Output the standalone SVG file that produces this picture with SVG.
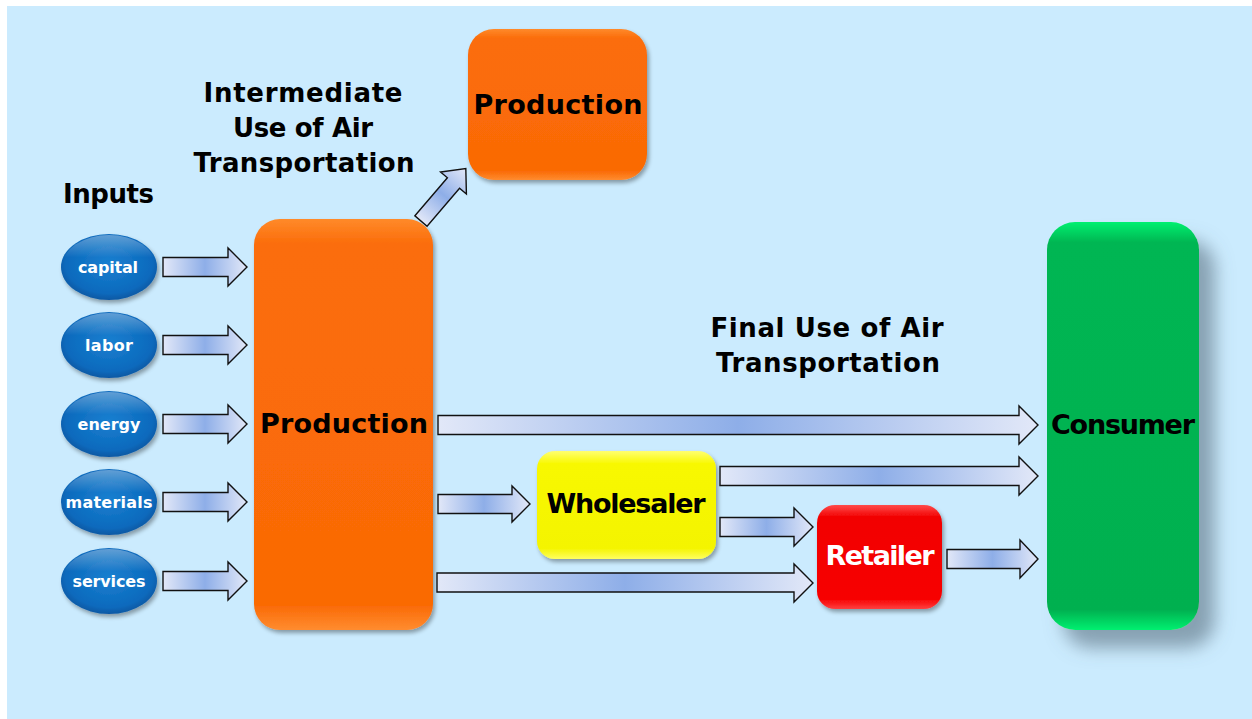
<svg xmlns="http://www.w3.org/2000/svg" width="1252" height="719" viewBox="0 0 1252 719">
  <defs>
    <style>
      .lbl { font-family: "DejaVu Sans", "Open Sans", "Liberation Sans", sans-serif; font-weight: 700; }
      .title { font-size: 26px; fill: #000; text-anchor: middle; }
      .box-text { font-size: 27px; fill: #000; text-anchor: middle; }
      .oval-text { font-size: 16px; fill: #fff; text-anchor: middle; }
      .arrow { fill: url(#arrowFill); stroke: #111; stroke-width: 1.4; stroke-linejoin: miter; }
    </style>
    <linearGradient id="arrowFill" x1="0" y1="0" x2="1" y2="0">
      <stop offset="0" stop-color="#e2e8f8"/>
      <stop offset="0.5" stop-color="#8eaee8"/>
      <stop offset="1" stop-color="#e2e8f8"/>
    </linearGradient>
    <radialGradient id="ovalFill" cx="0.5" cy="0.45" r="0.6">
      <stop offset="0" stop-color="#1a7fd0"/>
      <stop offset="0.75" stop-color="#0b6abd"/>
      <stop offset="1" stop-color="#0a4f96"/>
    </radialGradient>
    <linearGradient id="ovalShine" x1="0" y1="0" x2="0" y2="1">
      <stop offset="0" stop-color="#ffffff" stop-opacity="0.35"/>
      <stop offset="0.35" stop-color="#ffffff" stop-opacity="0"/>
    </linearGradient>
    <linearGradient id="orangeFill" x1="0" y1="0" x2="0" y2="1">
      <stop offset="0" stop-color="#ff8a2a"/>
      <stop offset="0.06" stop-color="#fb6d0a"/>
      <stop offset="0.94" stop-color="#fa6a05"/>
      <stop offset="1" stop-color="#ff8c30"/>
    </linearGradient>
    <linearGradient id="yellowFill" x1="0" y1="0" x2="0" y2="1">
      <stop offset="0" stop-color="#ffff70"/>
      <stop offset="0.12" stop-color="#f8f800"/>
      <stop offset="0.9" stop-color="#f4f400"/>
      <stop offset="1" stop-color="#ffff60"/>
    </linearGradient>
    <linearGradient id="redFill" x1="0" y1="0" x2="0" y2="1">
      <stop offset="0" stop-color="#ff4a4a"/>
      <stop offset="0.12" stop-color="#f20000"/>
      <stop offset="0.9" stop-color="#f70000"/>
      <stop offset="1" stop-color="#ff4040"/>
    </linearGradient>
    <linearGradient id="greenFill" x1="0" y1="0" x2="0" y2="1">
      <stop offset="0" stop-color="#00f070"/>
      <stop offset="0.05" stop-color="#00b652"/>
      <stop offset="0.95" stop-color="#00b050"/>
      <stop offset="1" stop-color="#00f070"/>
    </linearGradient>
    <filter id="softShadow" x="-20%" y="-20%" width="150%" height="150%">
      <feGaussianBlur in="SourceAlpha" stdDeviation="2"/>
      <feOffset dx="2" dy="3" result="b"/>
      <feComponentTransfer><feFuncA type="linear" slope="0.35"/></feComponentTransfer>
      <feMerge><feMergeNode/><feMergeNode in="SourceGraphic"/></feMerge>
    </filter>
    <filter id="bigShadow" x="-30%" y="-20%" width="170%" height="150%">
      <feGaussianBlur in="SourceAlpha" stdDeviation="9"/>
      <feOffset dx="16" dy="18" result="b"/>
      <feFlood flood-color="#5a7080" flood-opacity="0.6"/>
      <feComposite in2="b" operator="in"/>
      <feMerge><feMergeNode/><feMergeNode in="SourceGraphic"/></feMerge>
    </filter>
  </defs>

  <!-- backdrop -->
  <rect x="0" y="0" width="1252" height="719" fill="#ffffff"/>
  <rect x="7" y="6" width="1245" height="713" fill="#cbebfe"/>

  <!-- headings -->
  <g id="heading-inputs" class="lbl">
    <text x="63" y="203" font-size="26" fill="#000" textLength="91" lengthAdjust="spacing">Inputs</text>
  </g>
  <g id="heading-intermediate" class="lbl title">
    <text x="303" y="102" textLength="199" lengthAdjust="spacing">Intermediate</text>
    <text x="303" y="137" textLength="140" lengthAdjust="spacing">Use of Air</text>
    <text x="304" y="172" textLength="221" lengthAdjust="spacing">Transportation</text>
  </g>
  <g id="heading-final" class="lbl title">
    <text x="827" y="337" textLength="233" lengthAdjust="spacing">Final Use of Air</text>
    <text x="828" y="372" textLength="224" lengthAdjust="spacing">Transportation</text>
  </g>

  <!-- input ovals -->
  <g id="input-capital">
    <ellipse cx="109" cy="267" rx="48" ry="33" fill="url(#ovalFill)" filter="url(#softShadow)"/>
    <ellipse cx="109" cy="267" rx="47" ry="32" fill="url(#ovalShine)"/>
    <text class="lbl oval-text" x="108" y="273" textLength="60" lengthAdjust="spacing">capital</text>
  </g>
  <g id="input-labor">
    <ellipse cx="109" cy="345" rx="48" ry="33" fill="url(#ovalFill)" filter="url(#softShadow)"/>
    <ellipse cx="109" cy="345" rx="47" ry="32" fill="url(#ovalShine)"/>
    <text class="lbl oval-text" x="109" y="351" textLength="48" lengthAdjust="spacing">labor</text>
  </g>
  <g id="input-energy">
    <ellipse cx="109" cy="424" rx="48" ry="33" fill="url(#ovalFill)" filter="url(#softShadow)"/>
    <ellipse cx="109" cy="424" rx="47" ry="32" fill="url(#ovalShine)"/>
    <text class="lbl oval-text" x="109" y="430" textLength="63" lengthAdjust="spacing">energy</text>
  </g>
  <g id="input-materials">
    <ellipse cx="109" cy="502" rx="48" ry="33" fill="url(#ovalFill)" filter="url(#softShadow)"/>
    <ellipse cx="109" cy="502" rx="47" ry="32" fill="url(#ovalShine)"/>
    <text class="lbl oval-text" x="109" y="508" textLength="87" lengthAdjust="spacing">materials</text>
  </g>
  <g id="input-services">
    <ellipse cx="109" cy="581" rx="48" ry="33" fill="url(#ovalFill)" filter="url(#softShadow)"/>
    <ellipse cx="109" cy="581" rx="47" ry="32" fill="url(#ovalShine)"/>
    <text class="lbl oval-text" x="109" y="587" textLength="73" lengthAdjust="spacing">services</text>
  </g>

  <!-- main production block -->
  <g id="production-main">
    <rect x="254" y="219" width="179" height="411" rx="26" fill="url(#orangeFill)" filter="url(#softShadow)"/>
    <text class="lbl box-text" x="344" y="433" textLength="168" lengthAdjust="spacing">Production</text>
  </g>

  <!-- production using air transport as an intermediate input -->
  <g id="production-intermediate">
    <rect x="468" y="29" width="179" height="151" rx="26" fill="url(#orangeFill)" filter="url(#softShadow)"/>
    <text class="lbl box-text" x="558" y="114" textLength="169" lengthAdjust="spacing">Production</text>
  </g>

  <g id="wholesaler">
    <rect x="537" y="451" width="179" height="108" rx="18" fill="url(#yellowFill)" filter="url(#softShadow)"/>
    <text class="lbl box-text" x="626" y="513" font-size="25" textLength="159" lengthAdjust="spacing">Wholesaler</text>
  </g>

  <g id="retailer">
    <rect x="817" y="505" width="125" height="104" rx="18" fill="url(#redFill)" filter="url(#softShadow)"/>
    <text class="lbl box-text" x="880" y="565" font-size="24" style="fill:#fff" textLength="109" lengthAdjust="spacing">Retailer</text>
  </g>

  <g id="consumer">
    <rect x="1047" y="222" width="152" height="408" rx="28" fill="url(#greenFill)" filter="url(#bigShadow)"/>
    <text class="lbl box-text" x="1123" y="434" font-size="26" textLength="144" lengthAdjust="spacing">Consumer</text>
  </g>

  <!-- block arrows -->
  <g id="connectors">
    <!-- inputs into production -->
    <path class="arrow" d="M163 257.5 H228 V248 L247 267 L228 286 V276.5 H163 Z"/>
    <path class="arrow" d="M163 335.5 H228 V326 L247 345 L228 364 V354.5 H163 Z"/>
    <path class="arrow" d="M163 414.5 H228 V405 L247 424 L228 443 V433.5 H163 Z"/>
    <path class="arrow" d="M163 492.5 H228 V483 L247 502 L228 521 V511.5 H163 Z"/>
    <path class="arrow" d="M163 571.5 H228 V562 L247 581 L228 600 V590.5 H163 Z"/>

    <!-- production to intermediate production -->
    <path class="arrow" transform="translate(421 221) rotate(-49.5)" d="M0 -8 H50 V-17 L69 0 L50 17 V8 H0 Z"/>

    <!-- production straight to consumer -->
    <path class="arrow" d="M438 415.5 H1019 V406 L1038 425 L1019 444 V434.5 H438 Z"/>
    <!-- production to wholesaler -->
    <path class="arrow" d="M438 494.5 H512 V486 L530 504 L512 522 V513.5 H438 Z"/>
    <!-- production to retailer -->
    <path class="arrow" d="M437 573 H794 V564 L813 583 L794 602 V592 H437 Z"/>
    <!-- wholesaler to consumer -->
    <path class="arrow" d="M720 466.5 H1019 V457 L1038 476 L1019 495 V485.5 H720 Z"/>
    <!-- wholesaler to retailer -->
    <path class="arrow" d="M720 517.5 H794 V508 L813 527 L794 546 V536.5 H720 Z"/>
    <!-- retailer to consumer -->
    <path class="arrow" d="M947 549.5 H1020 V540 L1038 559 L1020 578 V568.5 H947 Z"/>
  </g>
</svg>
